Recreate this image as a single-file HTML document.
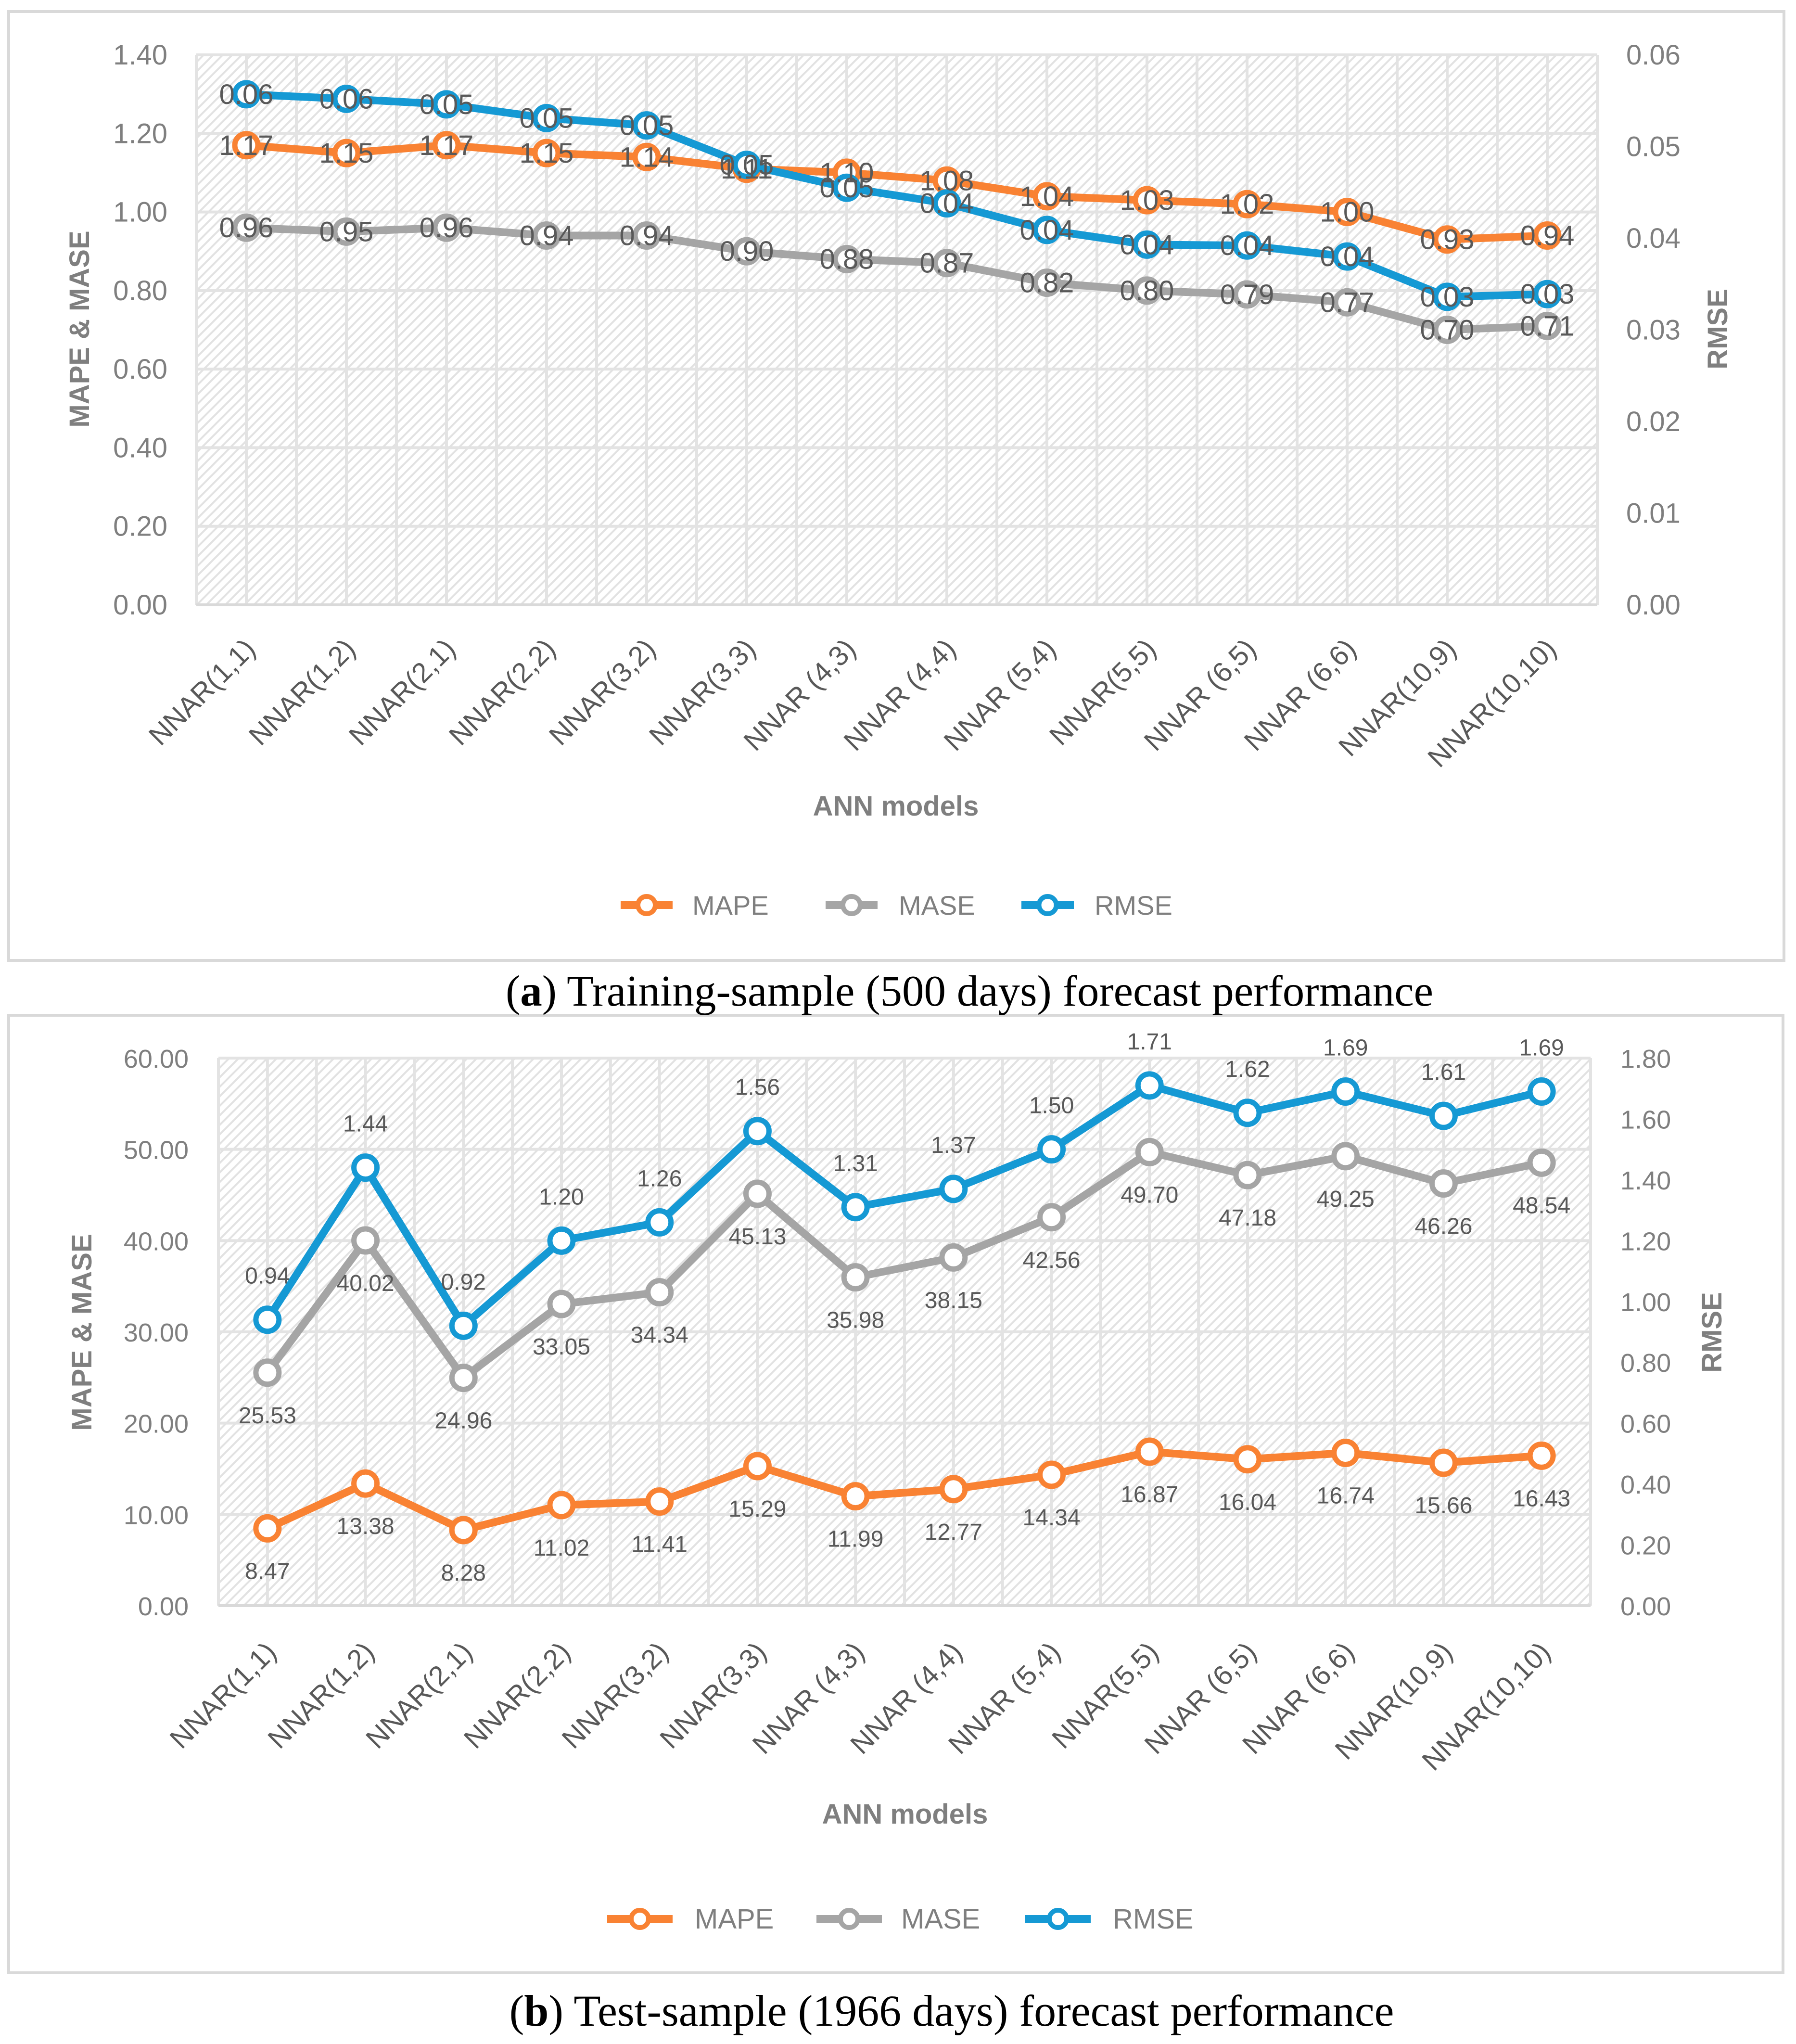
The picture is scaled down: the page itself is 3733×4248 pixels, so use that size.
<!DOCTYPE html>
<html><head><meta charset="utf-8"><style>
html,body{margin:0;padding:0;background:#fff;}
svg{display:block;}
text{font-family:"Liberation Sans",sans-serif;}
</style></head><body>
<svg id="root" width="3733" height="4248" viewBox="0 0 3733 4248" xmlns="http://www.w3.org/2000/svg">
<defs>
<pattern id="hatch" patternUnits="userSpaceOnUse" width="14" height="14" patternTransform="rotate(45)">
<rect width="14" height="14" fill="#ffffff"/>
<rect width="4" height="14" fill="#e2e2e2"/>
</pattern>
</defs>
<rect x="18" y="24" width="3690" height="1972" fill="#fff" stroke="#d9d9d9" stroke-width="6"/>
<rect x="18" y="2110" width="3688" height="1990" fill="#fff" stroke="#d9d9d9" stroke-width="6"/>
<text x="2015" y="2090" text-anchor="middle" font-size="91" style="font-family:'Liberation Serif',serif" fill="#000">(<tspan font-weight="bold">a</tspan>) Training-sample (500 days) forecast performance</text>
<text x="1978" y="4210" text-anchor="middle" font-size="92" style="font-family:'Liberation Serif',serif" fill="#000">(<tspan font-weight="bold">b</tspan>) Test-sample (1966 days) forecast performance</text>
<g id="ga"></g>
<g id="gb"></g>
</svg>
<script>
const categories = ["NNAR(1,1)","NNAR(1,2)","NNAR(2,1)","NNAR(2,2)","NNAR(3,2)","NNAR(3,3)","NNAR (4,3)","NNAR (4,4)","NNAR (5,4)","NNAR(5,5)","NNAR (6,5)","NNAR (6,6)","NNAR(10,9)","NNAR(10,10)"];
const aMAPE = [1.17,1.15,1.17,1.15,1.14,1.11,1.10,1.08,1.04,1.03,1.02,1.00,0.93,0.94];
const aMASE = [0.96,0.95,0.96,0.94,0.94,0.90,0.88,0.87,0.82,0.80,0.79,0.77,0.70,0.71];
const aRMSE = [0.0557,0.0552,0.0546,0.0531,0.0523,0.0480,0.0455,0.0438,0.0409,0.0393,0.0392,0.0380,0.0336,0.0339];
const aLeftTicks = ["0.00","0.20","0.40","0.60","0.80","1.00","1.20","1.40"];
const aRightTicks = ["0.00","0.01","0.02","0.03","0.04","0.05","0.06"];
const bMAPE = [8.47,13.38,8.28,11.02,11.41,15.29,11.99,12.77,14.34,16.87,16.04,16.74,15.66,16.43];
const bMASE = [25.53,40.02,24.96,33.05,34.34,45.13,35.98,38.15,42.56,49.70,47.18,49.25,46.26,48.54];
const bRMSE = [0.94,1.44,0.92,1.20,1.26,1.56,1.31,1.37,1.50,1.71,1.62,1.69,1.61,1.69];
const bLeftTicks = ["0.00","10.00","20.00","30.00","40.00","50.00","60.00"];
const bRightTicks = ["0.00","0.20","0.40","0.60","0.80","1.00","1.20","1.40","1.60","1.80"];

const NS="http://www.w3.org/2000/svg";
const COL={MAPE:"#f98233",MASE:"#a5a5a5",RMSE:"#1599d4"};
function mk(tag,attrs,parent){const e=document.createElementNS(NS,tag);for(const k in attrs)e.setAttribute(k,attrs[k]);parent.appendChild(e);return e;}

function chart(g,cfg){
  const {L,T,R,B}=cfg;const n=categories.length;const step=(R-L)/n;
  const x=i=>L+step*(i+0.5);
  const yl=v=>B-(v-cfg.lmin)/(cfg.lmax-cfg.lmin)*(B-T);
  const yr=v=>B-(v-cfg.rmin)/(cfg.rmax-cfg.rmin)*(B-T);
  const bg=mk('rect',{x:L,y:T,width:R-L,height:B-T,fill:'url(#hatch)'},g);
  
  
  for(let k=0;k<=2*n;k++){const gx=L+k*step/2;const l=mk('line',{x1:gx,x2:gx,y1:T,y2:B,stroke:'#e3e3e3','stroke-width':6},g);
    
    }
  cfg.lt.forEach((t,i)=>{const v=cfg.lmin+(cfg.lmax-cfg.lmin)*i/(cfg.lt.length-1);const yy=yl(v);
    const l=mk('line',{x1:L,x2:R,y1:yy,y2:yy,stroke:'#e3e3e3','stroke-width':6},g);
    
    
    const tx=mk('text',{x:cfg.lx,y:yy+20,'text-anchor':'end','font-size':cfg.tfs,fill:'#7f7f7f'},g);tx.textContent=t;
    
    });
  cfg.rt.forEach((t,i)=>{const v=cfg.rmin+(cfg.rmax-cfg.rmin)*i/(cfg.rt.length-1);const yy=yr(v);
    const tx=mk('text',{x:cfg.rx,y:yy+20,'text-anchor':'start','font-size':cfg.tfs,fill:'#7f7f7f'},g);tx.textContent=t;
    
    });
  const bl=mk('line',{x1:L,x2:R,y1:B,y2:B,stroke:'#d9d9d9','stroke-width':6},g);
  
  
  categories.forEach((c,i)=>{const ax=x(i)+22,ay=B+cfg.xlOff;
    const tx=mk('text',{x:ax,y:ay,'text-anchor':'end','font-size':cfg.xfs,fill:'#595959',transform:`rotate(-45 ${ax} ${ay})`},g);tx.textContent=c;
    
    });
  const yt=mk('text',{x:cfg.ytx,y:cfg.yty,'text-anchor':'middle','font-size':cfg.titfs,'font-weight':'bold',fill:'#7f7f7f',transform:`rotate(-90 ${cfg.ytx} ${cfg.yty})`},g);yt.textContent='MAPE & MASE';
  
  
  const rt=mk('text',{x:cfg.rtx,y:cfg.yty,'text-anchor':'middle','font-size':cfg.titfs,'font-weight':'bold',fill:'#7f7f7f',transform:`rotate(-90 ${cfg.rtx} ${cfg.yty})`},g);rt.textContent='RMSE';
  
  
  const xt=mk('text',{x:cfg.xtx,y:cfg.xty,'text-anchor':'middle','font-size':cfg.titfs,'font-weight':'bold',fill:'#7f7f7f'},g);xt.textContent='ANN models';
  
  
  const series=[["MAPE",cfg.mape,yl,cfg.offMape],["MASE",cfg.mase,yl,cfg.offMase],["RMSE",cfg.rmse,yr,cfg.offRmse]];
  series.forEach(([nm,vals,sc,off])=>{
    const sg=mk('g',{},g);
    
    
    const pl=mk('polyline',{points:vals.map((v,i)=>x(i)+','+sc(v)).join(' '),fill:'none',stroke:COL[nm],'stroke-width':16,'stroke-linejoin':'round'},sg);
    
    
    vals.forEach((v,i)=>{const c=mk('circle',{cx:x(i),cy:sc(v),r:24,fill:'#fff',stroke:COL[nm],'stroke-width':11},sg);
      
      });
  });
  series.forEach(([nm,vals,sc,off])=>{
    vals.forEach((v,i)=>{const t=mk('text',{x:x(i),y:sc(v)+off,'text-anchor':'middle','font-size':cfg.dfs,fill:'#595959'},g);
      t.textContent=v.toFixed(2);
      
      });
  });
  const lg=mk('g',{},g);
  
  
  cfg.leg.forEach(([nm,x1,x2,tx])=>{
    const e=mk('g',{},lg);
    
    
    mk('line',{x1:x1,x2:x2,y1:cfg.legY,y2:cfg.legY,stroke:COL[nm],'stroke-width':16},e);
    mk('circle',{cx:(x1+x2)/2,cy:cfg.legY,r:18,fill:'#fff',stroke:COL[nm],'stroke-width':10},e);
    const t=mk('text',{x:tx,y:cfg.legY+20,'font-size':cfg.legfs,fill:'#7f7f7f'},e);t.textContent=nm;
  });
}
chart(document.getElementById('ga'),{L:408,T:114,R:3320,B:1257,lmin:0,lmax:1.4,rmin:0,rmax:0.06,lt:aLeftTicks,rt:aRightTicks,
  lx:348,rx:3380,tfs:58,xfs:58,dfs:58,titfs:58,legfs:56,xlOff:95,ytx:185,yty:684,rtx:3590,xtx:1862,xty:1695,
  mape:aMAPE,mase:aMASE,rmse:aRMSE,offMape:20,offMase:20,offRmse:20,
  leg:[["MAPE",1290,1398,1439],["MASE",1716,1824,1868],["RMSE",2123,2232,2275]],legY:1881});
chart(document.getElementById('gb'),{L:454,T:2199,R:3306,B:3337,lmin:0,lmax:60,rmin:0,rmax:1.8,lt:bLeftTicks,rt:bRightTicks,
  lx:392,rx:3368,tfs:54,xfs:58,dfs:48,titfs:58,legfs:58,xlOff:100,ytx:190,yty:2769,rtx:3578,xtx:1881,xty:3790,
  mape:bMAPE,mase:bMASE,rmse:bRMSE,offMape:105,offMase:105,offRmse:-75,
  leg:[["MAPE",1262,1398,1444],["MASE",1697,1833,1873],["RMSE",2131,2267,2313]],legY:3988});
</script>
</body></html>
